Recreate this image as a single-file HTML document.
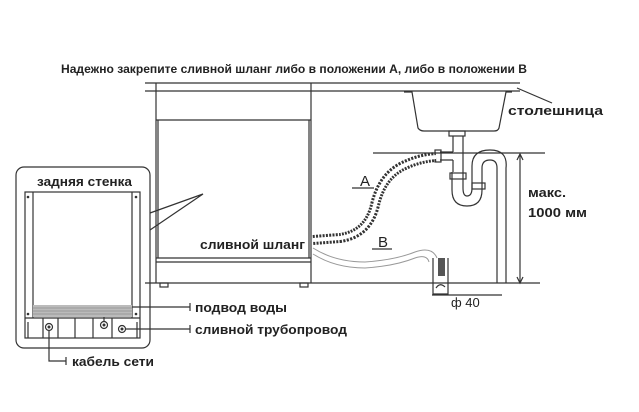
<!DOCTYPE html>
<html><head><meta charset="utf-8"><style>
html,body{margin:0;padding:0;background:#fff;width:639px;height:412px;overflow:hidden}
svg text{font-family:"Liberation Sans","DejaVu Sans",sans-serif;font-weight:bold;fill:#222}
</style></head><body>
<svg width="639" height="412" viewBox="0 0 639 412" xmlns="http://www.w3.org/2000/svg">
<g stroke="#333" fill="none" stroke-width="1.2">
<line x1="145" y1="83" x2="520" y2="83"/>
<line x1="145" y1="91" x2="520" y2="91"/>
<line x1="156" y1="83" x2="156" y2="283"/>
<line x1="311" y1="83" x2="311" y2="283"/>
<line x1="156" y1="120" x2="311" y2="120"/>
<line x1="158" y1="120" x2="158" y2="258"/>
<line x1="309" y1="120" x2="309" y2="258"/>
<line x1="156" y1="258" x2="311" y2="258"/>
<line x1="156" y1="262" x2="311" y2="262"/>
<line x1="145" y1="283" x2="540" y2="283"/>
<rect x="160" y="283" width="8" height="4"/>
<rect x="300" y="283" width="8" height="4"/>
<path d="M404 92 L412 92 L418 128 Q420 131 424 131 L494 131 Q498 131 499 128 L506 92 L512 92"/>
<line x1="517" y1="88" x2="552" y2="103"/>
<line x1="373" y1="153" x2="545" y2="153"/>
<line x1="520" y1="155" x2="520" y2="282"/>
<path d="M517 160 L520 154 L523 160 M517 277 L520 283 L523 277"/>
<rect x="449" y="131" width="16" height="5"/>
<line x1="453" y1="136" x2="453" y2="152"/>
<line x1="463" y1="136" x2="463" y2="160"/>
<path d="M453 152 L440 152 M453 160 L440 160"/>
<rect x="435" y="150" width="6" height="12"/>
<path d="M463 160 L463 172 M453 160 L453 172"/>
<path d="M452 172 L452 190 Q452 206 467 206 Q482 206 482 190 L482 168 Q482 160 490 160 Q497 160 497 168 L497 283"/>
<path d="M463 172 L463 188 Q463 196 467 196 Q472 196 472 188 L472 166 Q472 150 490 150 Q508 150 506 168 L506 283"/>
<rect x="450" y="173" width="16" height="6"/>
<rect x="472" y="183" width="13" height="6"/>
<path d="M313 240 L340 238 Q368 234 375 205 Q382 175 405 165 Q420 158 436 157" stroke="#333" stroke-width="10" stroke-dasharray="2 1.3"/>
<path d="M313 240 L340 238 Q368 234 375 205 Q382 175 405 165 Q420 158 436 157" stroke="#fff" stroke-width="4"/>
<path d="M313 248 Q335 262 365 262 Q395 260 415 252 Q432 246 437 258" stroke="#999" stroke-width="1"/>
<path d="M313 254 Q335 268 365 268 Q395 266 415 258 Q427 254 429 262" stroke="#999" stroke-width="1"/>
<path d="M433 258 L433 294 L448 294 L448 258"/>
<rect x="438" y="258" width="7" height="18" fill="#555" stroke="none"/>
<path d="M436 288 Q440 282 445 287"/>
<line x1="432" y1="295" x2="502" y2="295"/>
<line x1="352" y1="188" x2="374" y2="188"/>
<line x1="372" y1="249" x2="392" y2="249"/>
<rect x="16" y="167" width="134" height="181" rx="8"/>
<rect x="25" y="192" width="115" height="146"/>
<line x1="33" y1="192" x2="33" y2="318"/>
<line x1="132" y1="192" x2="132" y2="318"/>
<line x1="25" y1="318" x2="140" y2="318"/>
<line x1="28" y1="322" x2="28" y2="338"/>
<line x1="137" y1="322" x2="137" y2="338"/>
<line x1="43" y1="318" x2="43" y2="338"/>
<line x1="58" y1="318" x2="58" y2="338"/>
<line x1="75" y1="318" x2="75" y2="338"/>
<line x1="93" y1="318" x2="93" y2="338"/>
<line x1="112" y1="318" x2="112" y2="338"/>
<circle cx="49" cy="327" r="3.5"/>
<circle cx="104" cy="325" r="3.5"/>
<circle cx="122" cy="329" r="3.5"/>
<path d="M150 213 L203 194 L150 230"/>
<path d="M104 321 L104 307 L190 307 M190 303 L190 311"/>
<path d="M126 329 L190 329 M190 325 L190 333"/>
<path d="M49 331 L49 361 L66 361 M66 357 L66 365"/>
</g>
<rect x="33" y="305" width="99" height="12" fill="#bbb"/>
<g stroke="#777" stroke-width="0.6">
<line x1="33" y1="308" x2="132" y2="308"/><line x1="33" y1="311" x2="132" y2="311"/><line x1="33" y1="314" x2="132" y2="314"/>
</g>
<g fill="#333"><circle cx="28" cy="197" r="1.3"/><circle cx="136" cy="197" r="1.3"/><circle cx="28" cy="314" r="1.3"/><circle cx="136" cy="314" r="1.3"/><circle cx="49" cy="327" r="1.5"/><circle cx="104" cy="325" r="1.5"/><circle cx="122" cy="329" r="1.5"/></g>
<text x="294" y="73" font-size="12" text-anchor="middle" textLength="466" lengthAdjust="spacingAndGlyphs">Надежно закрепите сливной шланг либо в положении A, либо в положении B</text>
<text x="508" y="115" font-size="13" textLength="95" lengthAdjust="spacingAndGlyphs">столешница</text>
<text x="528" y="197" font-size="13" textLength="38" lengthAdjust="spacingAndGlyphs">макс.</text>
<text x="528" y="217" font-size="13" textLength="59" lengthAdjust="spacingAndGlyphs">1000 мм</text>
<text x="360" y="186" font-size="15" style="font-weight:normal">A</text>
<text x="378" y="247" font-size="15" style="font-weight:normal">B</text>
<text x="451" y="307" font-size="13" style="font-weight:normal">ф 40</text>
<text x="37" y="186" font-size="13" textLength="95" lengthAdjust="spacingAndGlyphs">задняя стенка</text>
<text x="200" y="249" font-size="13" textLength="105" lengthAdjust="spacingAndGlyphs">сливной шланг</text>
<text x="195" y="312" font-size="13" textLength="92" lengthAdjust="spacingAndGlyphs">подвод воды</text>
<text x="195" y="334" font-size="13" textLength="152" lengthAdjust="spacingAndGlyphs">сливной трубопровод</text>
<text x="72" y="366" font-size="13" textLength="82" lengthAdjust="spacingAndGlyphs">кабель сети</text>
</svg>
</body></html>
